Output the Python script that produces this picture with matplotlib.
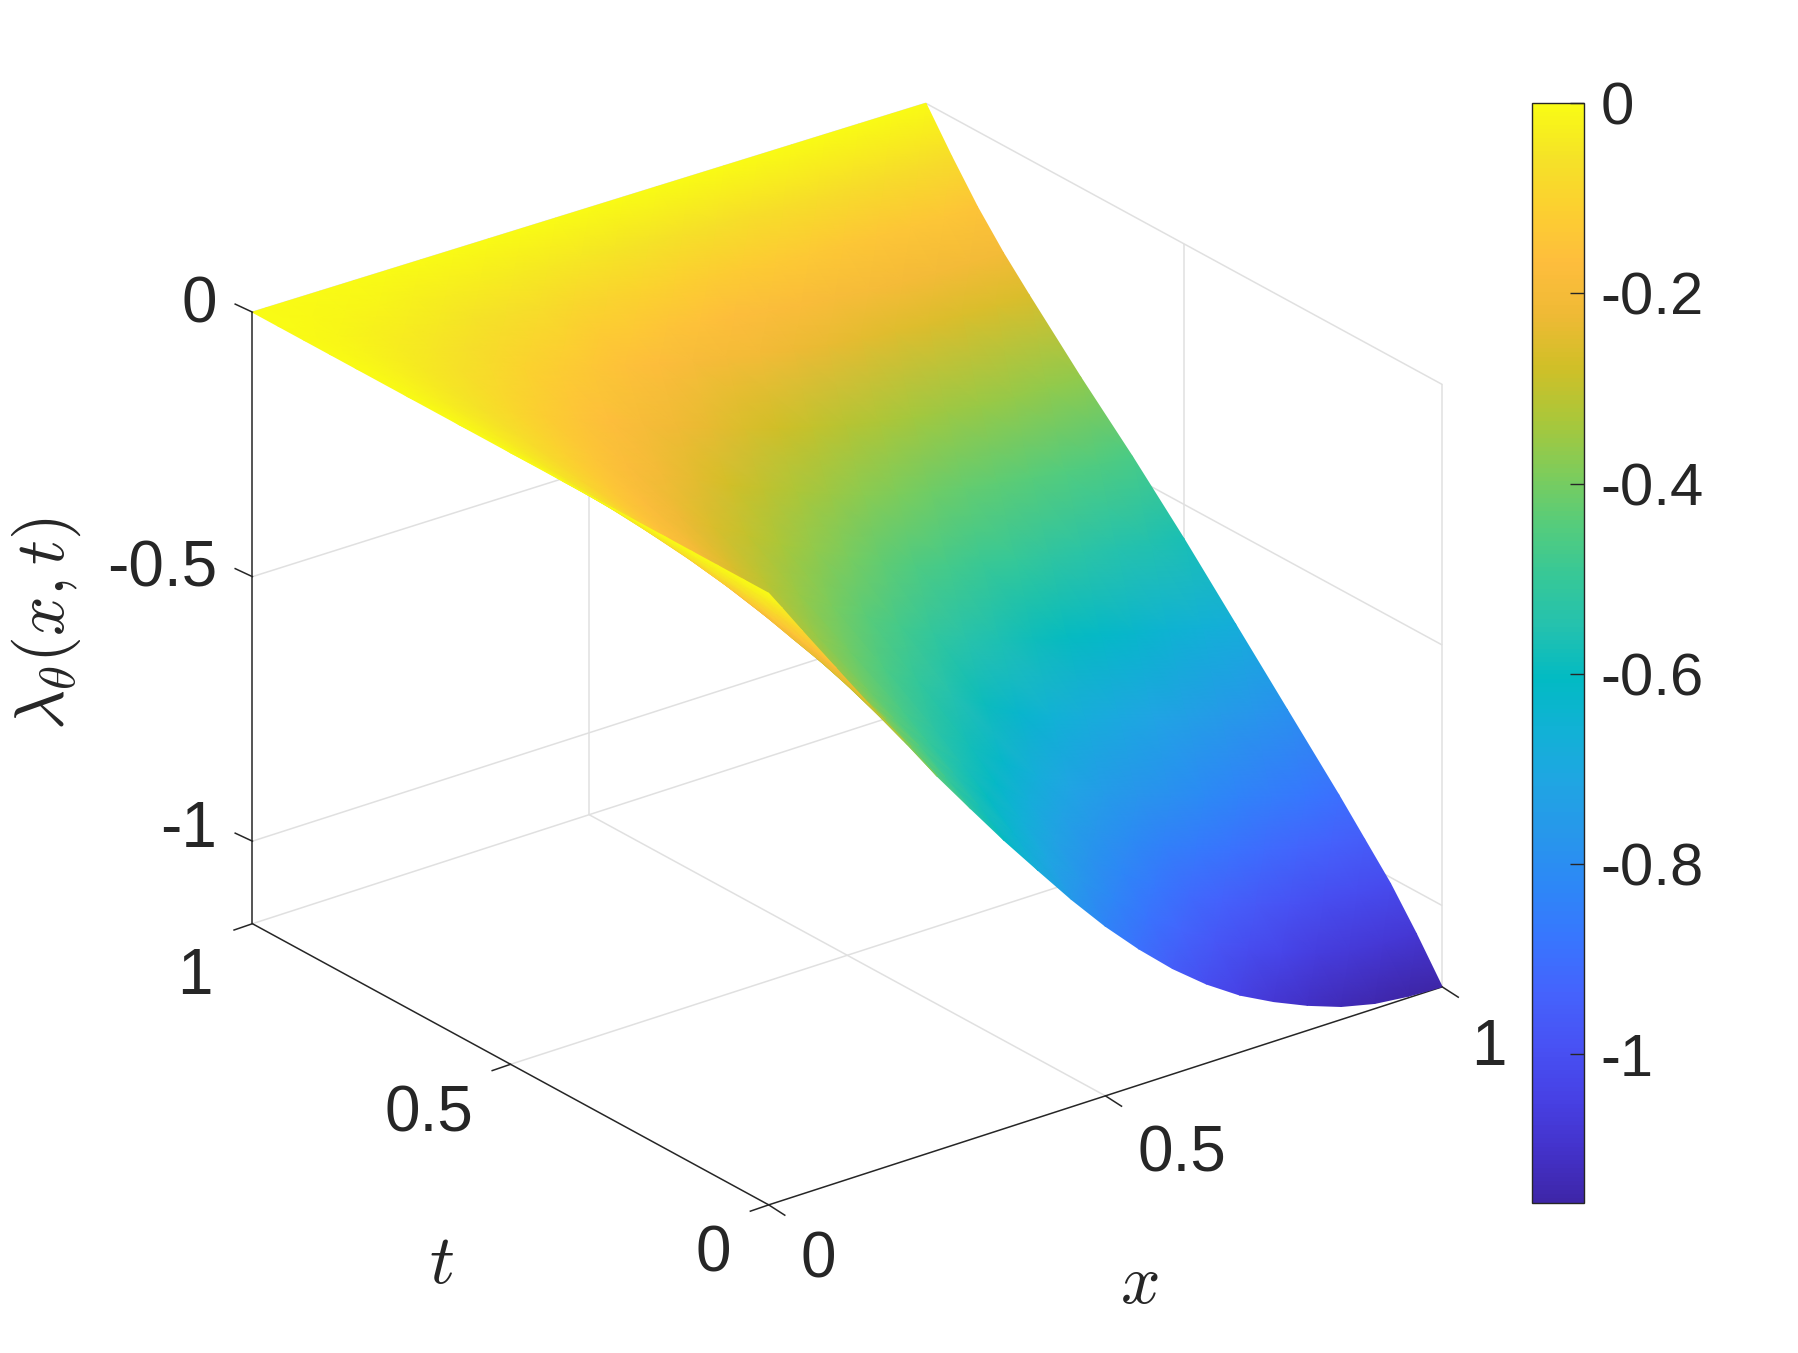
import numpy as np
import matplotlib
matplotlib.use('Agg')
import matplotlib.pyplot as plt
from matplotlib.colors import LinearSegmentedColormap

plt.rcParams['font.family'] = ['Liberation Sans', 'DejaVu Sans']
plt.rcParams['mathtext.fontset'] = 'cm'
plt.rcParams['axes.unicode_minus'] = False

# --- values ---
x_nodes = [0, .02, .05, .1, .15, .2, .25, .3, .35, .4, .45, .5, .55, .6, .65, .7, .75, .8, .85, .9, .95, 1]
t_nodes = [0, .05, .1, .15, .2, .3, .4, .5, .6, .7, .8, .85, .9, .95, 1]
# one row per t, one column per x
lam = [
    [0, -.036, -.091, -.181, -.271, -.358, -.446, -.528, -.609, -.686, -.762, -.833, -.897, -.955, -1.005, -1.047, -1.080, -1.108, -1.131, -1.146, -1.153, -1.156],
    [0, -.034, -.085, -.169, -.253, -.335, -.417, -.494, -.569, -.640, -.708, -.771, -.828, -.882, -.929, -.971, -1.007, -1.034, -1.057, -1.072, -1.078, -1.081],
    [0, -.032, -.080, -.158, -.237, -.313, -.390, -.462, -.533, -.599, -.662, -.722, -.775, -.825, -.870, -.909, -.942, -.968, -.990, -1.003, -1.009, -1.012],
    [0, -.030, -.075, -.149, -.224, -.295, -.368, -.436, -.500, -.561, -.618, -.673, -.724, -.770, -.808, -.840, -.866, -.889, -.912, -.929, -.941, -.954],
    [0, -.028, -.071, -.140, -.210, -.277, -.346, -.409, -.467, -.525, -.575, -.626, -.673, -.716, -.747, -.773, -.793, -.815, -.837, -.857, -.876, -.896],
    [0, -.024, -.062, -.123, -.184, -.243, -.303, -.359, -.410, -.460, -.505, -.549, -.590, -.628, -.656, -.678, -.696, -.715, -.734, -.752, -.768, -.786],
    [0, -.021, -.053, -.106, -.159, -.209, -.261, -.309, -.353, -.396, -.434, -.473, -.508, -.541, -.564, -.583, -.598, -.615, -.632, -.647, -.661, -.676],
    [0, -.018, -.045, -.089, -.133, -.175, -.219, -.259, -.295, -.332, -.364, -.396, -.425, -.453, -.472, -.489, -.501, -.515, -.529, -.542, -.554, -.566],
    [0, -.014, -.036, -.072, -.108, -.143, -.178, -.211, -.242, -.272, -.300, -.326, -.351, -.373, -.392, -.407, -.420, -.431, -.442, -.450, -.456, -.462],
    [0, -.011, -.029, -.057, -.085, -.113, -.140, -.166, -.192, -.215, -.238, -.260, -.279, -.297, -.313, -.327, -.339, -.348, -.356, -.361, -.363, -.364],
    [0, -.008, -.020, -.041, -.061, -.081, -.100, -.119, -.137, -.154, -.170, -.186, -.199, -.212, -.224, -.234, -.242, -.249, -.254, -.258, -.259, -.260],
    [0, -.006, -.016, -.032, -.048, -.064, -.079, -.094, -.108, -.122, -.135, -.147, -.158, -.168, -.177, -.185, -.192, -.197, -.201, -.204, -.205, -.206],
    [0, -.005, -.011, -.023, -.034, -.045, -.056, -.066, -.076, -.086, -.095, -.103, -.111, -.118, -.124, -.130, -.135, -.138, -.141, -.143, -.144, -.145],
    [0, -.002, -.006, -.012, -.018, -.023, -.029, -.034, -.040, -.044, -.049, -.054, -.058, -.061, -.065, -.068, -.070, -.072, -.074, -.074, -.075, -.075],
    [0, 0, 0, 0, 0, 0, 0, 0, 0, 0, 0, 0, 0, 0, 0, 0, 0, 0, 0, 0, 0, 0],
]
z_min = -1.156
z_ticks = [0, -0.5, -1]
z_labels = ['0', '-0.5', '-1']
xt_ticks = [0, 0.5, 1]
xt_labels = ['0', '0.5', '1']
cbar_ticks = [0, -0.2, -0.4, -0.6, -0.8, -1]
cbar_labels = ['0', '-0.2', '-0.4', '-0.6', '-0.8', '-1']

parula = [
    (.2422, .1504, .6603), (.2647, .1978, .7952), (.2783, .2559, .8991), (.2810, .3228, .9579),
    (.2699, .3892, .9906), (.2206, .4603, .9973), (.1786, .5289, .9682), (.1540, .5902, .9218),
    (.1248, .6459, .8883), (.0689, .6948, .8394), (.0067, .7312, .7660), (.1408, .7584, .6842),
    (.2161, .7843, .5923), (.3406, .8008, .4789), (.5044, .7993, .3480), (.6720, .7793, .2227),
    (.8203, .7498, .1535), (.9393, .7288, .2100), (.9956, .7434, .2371), (.9892, .8136, .1885),
    (.9610, .8890, .1537), (.9769, .9839, .0805),
]
cmap = LinearSegmentedColormap.from_list('parula', parula, N=256)

DARK = '#262626'
GRID = '#e0e0e0'
FS = 46
FS_CB = 43
FS_LAB = 50


def proj(x, t, z):
    # view of the box, in the pixel frame of the 1568 wide picture
    x, t, z = np.asarray(x, float), np.asarray(t, float), np.asarray(z, float)
    return 670 + 587 * x - 450 * t, 517 - (182 - 6.9 * z) * x - 245 * t - 461 * z


def draw():
    fig = plt.figure(figsize=(17.99, 13.53), dpi=100)
    ax = fig.add_axes([0, 0, 1, 1])
    ax.set_xlim(0, 1568)
    ax.set_ylim(1179, 0)
    ax.axis('off')

    def seg(a, b, color=GRID, lw=1.1):
        sa, sb = proj(*a), proj(*b)
        ax.plot([sa[0], sb[0]], [sa[1], sb[1]], color=color, lw=lw, solid_capstyle='butt', zorder=1)

    # back walls and floor grid
    for z in [-0.5, -1, 0]:
        seg((0, 1, z), (1, 1, z))
        seg((1, 1, z), (1, 0, z))
    seg((.5, 1, z_min), (.5, 1, 0))
    seg((1, .5, z_min), (1, .5, 0))
    seg((1, 1, z_min), (1, 1, 0))
    seg((1, 0, z_min), (1, 0, 0))
    seg((.5, 0, z_min), (.5, 1, z_min))
    seg((0, .5, z_min), (1, .5, z_min))
    seg((0, 1, z_min), (1, 1, z_min))
    seg((1, 0, z_min), (1, 1, z_min))

    # surface, large x first so the strip at small x stays on top at the fold
    xx, tt = np.meshgrid(x_nodes[::-1], t_nodes, indexing='ij')
    zz = np.array(lam).T[::-1, :]
    sx, sy = proj(xx, tt, zz)
    mesh = ax.pcolormesh(sx, sy, zz, shading='gouraud', cmap=cmap, vmin=z_min, vmax=0, zorder=2)

    # axis lines and ticks
    seg((0, 1, z_min), (0, 1, 0), DARK)
    seg((0, 0, z_min), (0, 1, z_min), DARK)
    seg((0, 0, z_min), (1, 0, z_min), DARK)
    for z in z_ticks:
        px, py = proj(0, 1, z)
        ax.plot([px, px - 15], [py, py - 7], color=DARK, lw=1.1, zorder=3)
    for v in xt_ticks:
        px, py = proj(0, v, z_min)
        ax.plot([px, px - 16], [py, py + 5.5], color=DARK, lw=1.1, zorder=3)
        px, py = proj(v, 0, z_min)
        ax.plot([px, px + 14], [py, py + 9], color=DARK, lw=1.1, zorder=3)

    # tick labels
    for lab, y in zip(z_labels, [266, 496, 723]):
        ax.text(189, y, lab, ha='right', va='center', fontsize=FS, color=DARK)
    for lab, pos in zip(xt_labels, [(622, 1093), (374, 971), (170, 851)]):
        ax.text(pos[0], pos[1], lab, ha='center', va='center', fontsize=FS, color=DARK)
    for lab, pos in zip(xt_labels, [(713, 1098), (1030, 1006), (1298, 913)]):
        ax.text(pos[0], pos[1], lab, ha='center', va='center', fontsize=FS, color=DARK)

    # axis labels
    ax.text(40, 543, r'$\lambda_\theta(x,t)$', rotation=90, ha='center', va='center', fontsize=FS_LAB, color=DARK)
    ax.text(385, 1102, r'$t$', ha='center', va='center', fontsize=FS_LAB, color=DARK)
    ax.text(993, 1120, r'$x$', ha='center', va='center', fontsize=FS_LAB, color=DARK)

    # colorbar
    cax = fig.add_axes([1335.5 / 1568, 1 - 1048 / 1179, 45 / 1568, 958 / 1179])
    cb = fig.colorbar(mesh, cax=cax, ticks=cbar_ticks)
    cb.ax.set_yticklabels(cbar_labels)
    cb.ax.tick_params(direction='in', length=10, width=1.0, color=DARK, labelcolor=DARK, labelsize=FS_CB, pad=12)
    cb.outline.set_edgecolor(DARK)
    cb.outline.set_linewidth(1.0)

    fig.savefig('out.png', dpi=100, facecolor='white')


if __name__ == "__main__":
    draw()
